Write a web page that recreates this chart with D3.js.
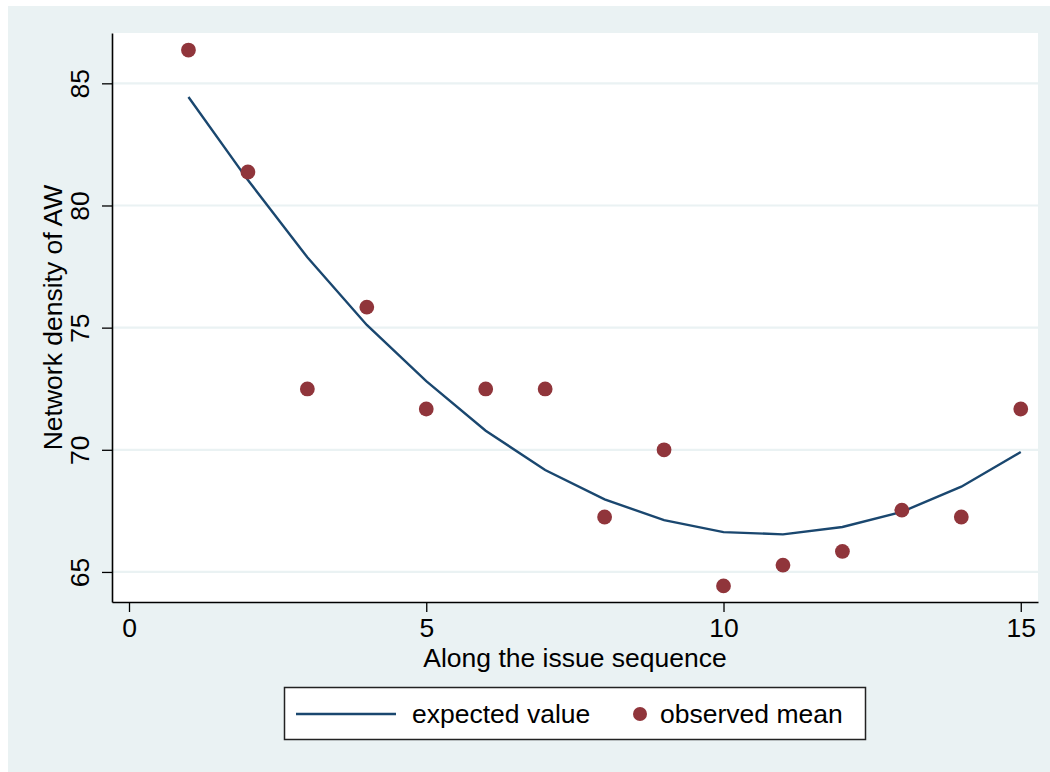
<!DOCTYPE html>
<html>
<head>
<meta charset="utf-8">
<script src="https://cdn.jsdelivr.net/npm/d3@7"></script>
<style>
  html, body { margin: 0; padding: 0; background: #ffffff; }
  svg { display: block; }
  text { font-family: "Liberation Sans", Arial, Helvetica, sans-serif; fill: #000; }
</style>
</head>
<body>
<svg id="chart" width="1050" height="772"></svg>
<script>
// Issue position along the sequence
const issues = [1, 2, 3, 4, 5, 6, 7, 8, 9, 10, 11, 12, 13, 14, 15];
// Fitted (quadratic) expected network density
const expectedValue = [84.44, 81.04, 77.88, 75.11, 72.81, 70.78, 69.17, 67.97, 67.12, 66.63, 66.54, 66.84, 67.46, 68.49, 69.91];
// Observed mean network density at each issue
const observedMean = [86.36, 81.37, 72.49, 75.84, 71.67, 72.49, 72.49, 67.25, 70.0, 64.43, 65.28, 65.84, 67.53, 67.25, 71.67];
// Axis ticks
const xTicks = [0, 5, 10, 15];
const yTicks = [65, 70, 75, 80, 85];
// Legend entries
const legendLabels = ["expected value", "observed mean"];

const svg = d3.select("#chart");
const W = 1050, H = 772;
const plot = { left: 112, right: 1038, top: 33, bottom: 602 };
const FONT = 26.5;
const bg = "#eaf2f3";
const lineColor = "#1a476f";
const dotColor = "#90353b";

// Graph background
svg.append("rect").attr("x", 8).attr("y", 6).attr("width", W - 8).attr("height", H - 6).attr("fill", bg);
// Plot region
svg.append("rect").attr("x", plot.left).attr("y", plot.top)
  .attr("width", plot.right - plot.left).attr("height", plot.bottom - plot.top).attr("fill", "#ffffff");

const x = d3.scaleLinear().domain([-0.286, 15.29]).range([plot.left, plot.right]);
const y = d3.scaleLinear().domain([63.77, 87.06]).range([plot.bottom, plot.top]);

// Horizontal grid lines
svg.append("g").selectAll("line").data(yTicks).join("line")
  .attr("x1", plot.left).attr("x2", plot.right)
  .attr("y1", d => y(d)).attr("y2", d => y(d))
  .attr("stroke", bg).attr("stroke-width", 2.2);

// X axis
const gx = svg.append("g").attr("transform", `translate(0,${plot.bottom})`)
  .call(d3.axisBottom(x).tickValues(xTicks).tickFormat(d3.format("d")).tickSize(10).tickSizeOuter(0));
gx.select(".domain").attr("stroke", "#000").attr("stroke-width", 1.6);
gx.selectAll(".tick line").attr("stroke", "#000").attr("stroke-width", 1.3);
gx.selectAll(".tick text").attr("font-size", FONT).attr("font-family", null)
  .attr("y", 35).attr("dy", 0).attr("fill", "#000");

// Y axis
const gy = svg.append("g").attr("transform", `translate(${plot.left},0)`)
  .call(d3.axisLeft(y).tickValues(yTicks).tickFormat(d3.format("d")).tickSize(10).tickSizeOuter(0));
gy.select(".domain").attr("stroke", "#000").attr("stroke-width", 1.6);
gy.selectAll(".tick line").attr("stroke", "#000").attr("stroke-width", 1.3);
gy.selectAll(".tick text").attr("font-size", FONT).attr("font-family", null)
  .attr("transform", "rotate(-90)").attr("x", 0).attr("y", -23.5).attr("dy", 0)
  .attr("text-anchor", "middle").attr("fill", "#000");

// Axis titles
svg.append("text").attr("x", (plot.left + plot.right) / 2).attr("y", 667)
  .attr("text-anchor", "middle").attr("font-size", FONT).text("Along the issue sequence");
svg.append("text")
  .attr("transform", `translate(61.5,${(plot.top + plot.bottom) / 2}) rotate(-90)`)
  .attr("text-anchor", "middle").attr("font-size", FONT).text("Network density of AW");

// Expected value line
const line = d3.line().x((d, i) => x(issues[i])).y(d => y(d));
svg.append("path").datum(expectedValue).attr("d", line)
  .attr("fill", "none").attr("stroke", lineColor).attr("stroke-width", 2.4)
  .attr("stroke-linejoin", "miter");

// Observed means
svg.append("g").selectAll("circle").data(observedMean).join("circle")
  .attr("cx", (d, i) => x(issues[i])).attr("cy", d => y(d)).attr("r", 7.4)
  .attr("fill", dotColor);

// Legend
const lg = svg.append("g");
lg.append("rect").attr("x", 284.5).attr("y", 687.5).attr("width", 581).attr("height", 52)
  .attr("fill", "#ffffff").attr("stroke", "#222").attr("stroke-width", 1.5);
lg.append("line").attr("x1", 296).attr("x2", 396).attr("y1", 714).attr("y2", 714)
  .attr("stroke", lineColor).attr("stroke-width", 2.4);
lg.append("text").attr("x", 412).attr("y", 723).attr("font-size", FONT).text(legendLabels[0]);
lg.append("circle").attr("cx", 640).attr("cy", 714).attr("r", 7).attr("fill", dotColor);
lg.append("text").attr("x", 660).attr("y", 723).attr("font-size", FONT).text(legendLabels[1]);
</script>
</body>
</html>
